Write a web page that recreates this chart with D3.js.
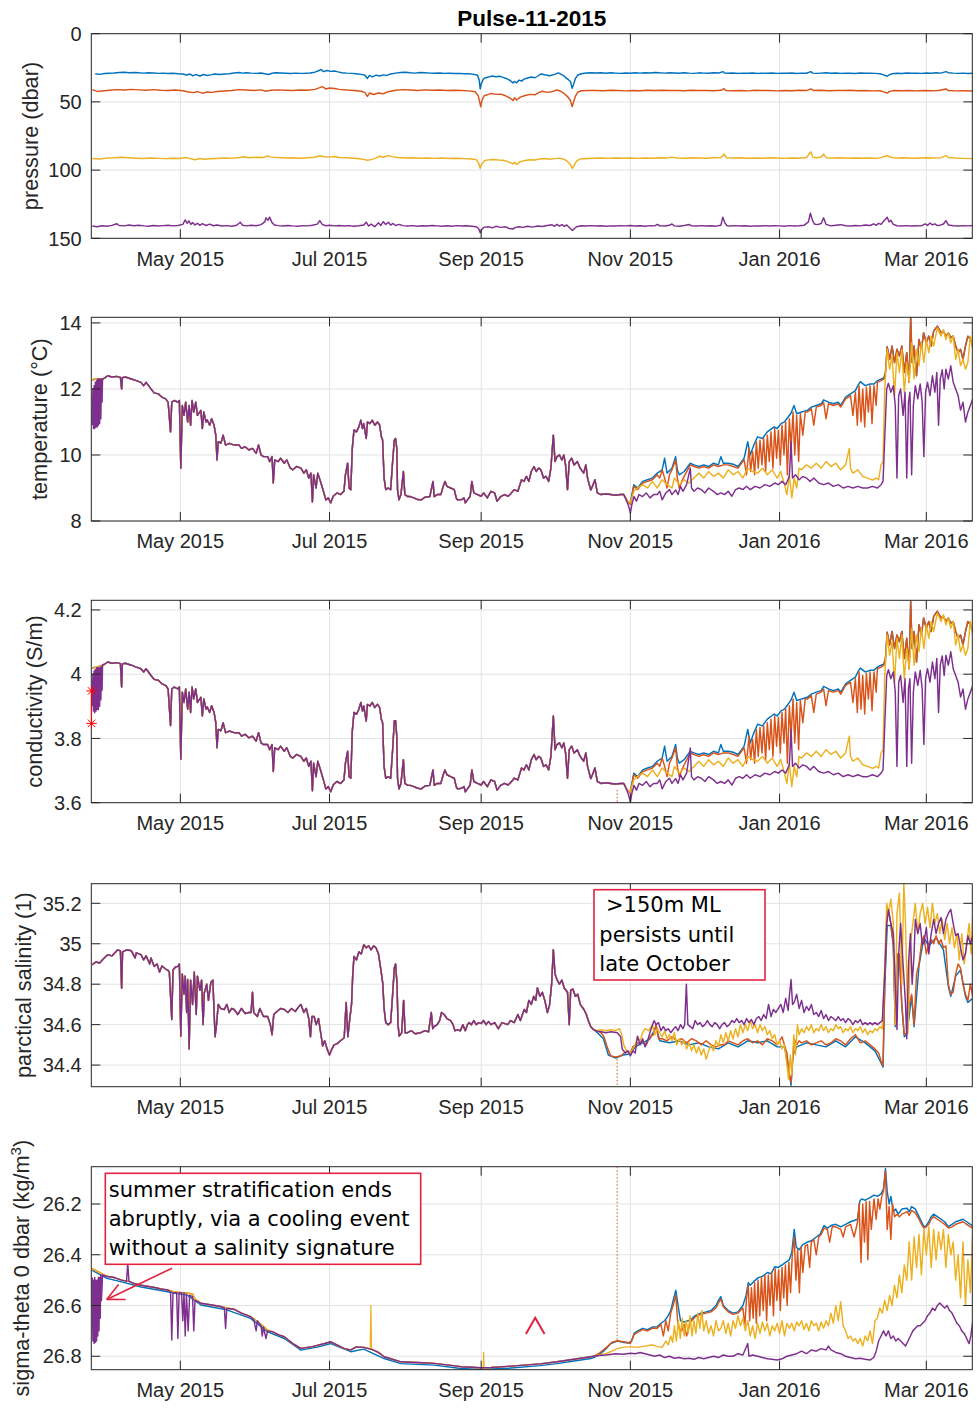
<!DOCTYPE html>
<html><head><meta charset="utf-8">
<script src="https://cdn.jsdelivr.net/npm/d3@7"></script>
<style>
html,body{margin:0;padding:0;background:#fff;}
svg{display:block;}
text{font-family:"Liberation Sans",Arial,Helvetica,sans-serif;}
</style></head><body>
<svg id="fig" width="977" height="1416"></svg>
<script>
// ---------------- DATA (day offsets from 2015-03-26 UTC, value) ----------------
const T0 = Date.UTC(2015, 2, 26);
const xDomainDays = [-0.4, 359.8];
const xTickDates = ["2015-05-01","2015-07-01","2015-09-01","2015-11-01","2016-01-01","2016-03-01"];
const xTickLabels = ["May 2015","Jul 2015","Sep 2015","Nov 2015","Jan 2016","Mar 2016"];
const title = "Pulse-11-2015";
const yLabels = ["pressure (dbar)","temperature (\u00B0C)","conductivity (S/m)","parctical salinity (1)","sigma-theta 0 dbar (kg/m"];
const yTicks = [[0,50,100,150],[8,10,12,14],[3.6,3.8,4,4.2],[34.4,34.6,34.8,35,35.2],[26.2,26.4,26.6,26.8]];
const yDomains = [[150,0],[8,14.17],[3.6,4.23],[34.293,35.297],[26.853,26.053]];

// pressure
const pressBlue = [[1.2,29.4],[3,29.8],[5,29.2],[7,29.0],[9,28.8],[11,28.5],[13,28.3],[15,28.6],[17,28.4],[19,28.7],[21,28.9],[23,28.6],[25,28.8],[27,29.1],[29,28.9],[31,29.2],[33,29.0],[35,29.3],[37,29.5],[38.5,30.3],[40,29.6],[41,30.8],[42.5,30.0],[44,31.0],[45.5,29.9],[47,30.6],[48.5,30.2],[50,29.6],[52,29.9],[54,29.5],[56,29.3],[58,28.8],[60,28.4],[61.5,28.9],[63,28.6],[65,28.9],[67,29.1],[69,28.8],[70.5,29.4],[72,29.9],[73.5,29.0],[75,28.6],[77,28.8],[79,29.0],[81,29.2],[83,28.9],[85,29.1],[87,29.0],[89,28.8],[91,28.2],[92.5,27.2],[93.5,26.2],[94.5,27.8],[96,27.0],[97.5,27.6],[99,27.3],[100.5,28.0],[102,28.6],[104,28.9],[106,29.1],[108,29.4],[110,29.8],[111.5,30.5],[112.5,32.8],[113.3,30.6],[114.5,31.6],[116,30.4],[117.5,31.0],[119,30.2],[120.5,30.6],[122,29.5],[124,28.9],[126,28.4],[128,28.2],[130,28.6],[132,28.9],[134,28.5],[136,28.7],[138,28.9],[140,29.0],[142,28.8],[144,29.1],[146,29.0],[148,29.2],[150,29.1],[152,29.3],[154,29.4],[156,29.8],[157.5,30.5],[158.2,34],[158.6,40.5],[159.1,36.5],[159.8,33.5],[160.5,32.5],[162,31.8],[163.5,31.0],[165,31.6],[166.5,31.2],[168,32.0],[169.5,33.0],[171,34.5],[172,36.2],[172.6,35.0],[173.5,36.0],[174.5,34.0],[175.5,34.8],[176.5,33.3],[178,32.5],[179.5,31.8],[181,32.3],[182,31.2],[183.5,29.5],[185,30.1],[187,30.8],[189,29.8],[190.5,28.7],[191.5,29.6],[192.5,30.5],[193.5,32.0],[194.5,33.5],[195.5,35.0],[196.2,40.0],[196.8,37.0],[197.5,33.0],[198.5,30.3],[200,29.4],[202,28.8],[204,28.6],[206,28.8],[208,28.6],[210,29.0],[212,28.7],[214,28.9],[216,29.1],[218,28.8],[220,29.0],[222,28.7],[224,28.9],[226,28.6],[228,28.8],[230,28.4],[232,28.7],[234,28.9],[236,28.6],[238,28.8],[240,29.0],[242,28.6],[244,28.9],[246,29.1],[248,28.7],[250,28.9],[252,29.0],[254,28.6],[256,28.8],[258,27.8],[258.5,28.9],[260,29.0],[262,28.8],[264,29.1],[266,28.9],[268,29.0],[270,28.8],[272,29.1],[274,28.9],[276,29.0],[278,28.8],[280,29.1],[282,28.9],[284,29.0],[286,28.8],[288,29.2],[290,28.9],[292,29.0],[293.8,27.8],[294.5,28.9],[296,29.1],[298,28.9],[300,28.7],[302,29.0],[304,28.8],[306,29.1],[308,28.9],[310,29.0],[312,29.2],[314,28.8],[316,29.0],[318,28.9],[320,29.1],[322,29.4],[323.5,30.2],[325,31.2],[326,30.0],[327,29.4],[329,29.0],[331,29.2],[333,28.8],[335,29.0],[337,28.9],[339,29.1],[341,28.8],[343,29.0],[345,28.7],[347,28.9],[349,27.8],[350,28.6],[352,28.9],[354,29.1],[356,28.9],[358,29.2],[360,29.0]];
const pressOrange = [[0,41.0],[2,42.3],[4,42.0],[7,41.5],[10,41.0],[13,41.3],[16,40.8],[19,41.2],[22,41.5],[25,41.0],[28,41.4],[31,41.6],[34,41.3],[37,41.8],[39,42.6],[41,43.2],[43,42.5],[45,43.6],[47,42.8],[49,43.0],[51,42.4],[54,42.0],[57,41.6],[60,41.0],[63,41.3],[66,41.6],[69,41.2],[71,42.2],[73,41.5],[76,41.2],[79,41.5],[82,41.7],[85,41.3],[88,41.5],[91,40.8],[93,39.5],[94,38.8],[95.5,40.5],[97,39.8],[99,40.2],[101,40.8],[104,41.3],[107,41.6],[110,42.2],[111.5,43.2],[112.5,46.0],[113.3,43.5],[115,44.6],[117,43.5],[119,44.0],[121,42.5],[124,41.5],[127,41.0],[130,41.3],[133,41.6],[136,41.2],[139,41.5],[142,41.3],[145,41.6],[148,41.4],[151,41.7],[154,41.9],[156.5,42.5],[157.8,45.5],[158.4,50],[158.8,53.6],[159.4,48.5],[160.2,45.5],[161.5,44.8],[163,43.8],[165,44.5],[167,44.3],[169,45.5],[171,47.5],[172,49.0],[172.6,47.0],[173.5,48.6],[175,46.5],[177,45.3],[179,44.5],[181,44.8],[182.5,43.2],[184,42.2],[186,43.0],[188,42.5],[190,41.3],[191.5,42.2],[193,44.0],[194.5,46.5],[195.5,49.0],[196.2,53.5],[196.8,50.0],[197.5,46.0],[198.5,42.8],[200,41.8],[203,41.7],[206,41.6],[209,41.8],[212,41.5],[215,41.7],[218,41.9],[221,41.6],[224,41.8],[227,41.5],[230,41.7],[233,41.4],[236,41.7],[239,41.6],[242,41.8],[245,41.5],[248,41.7],[251,41.6],[254,41.8],[257,41.5],[258.3,40.3],[259,41.6],[262,41.8],[265,41.6],[268,41.9],[271,41.5],[274,41.7],[277,41.6],[280,41.9],[283,41.6],[286,41.8],[289,41.5],[292,41.7],[293.8,40.5],[295,41.7],[298,41.5],[301,41.8],[304,41.6],[307,41.7],[310,41.5],[313,41.8],[316,41.6],[319,41.9],[322,41.8],[324,42.8],[325,43.5],[326,42.3],[328,41.7],[331,41.8],[334,41.6],[337,41.9],[340,41.7],[343,41.8],[346,41.6],[349,40.5],[350,41.7],[353,41.9],[356,41.8],[360,42.0]];
const pressYellow = [[0,91.5],[3,91.8],[6,91.2],[9,91.0],[12,90.6],[15,91.0],[18,91.3],[21,91.5],[24,91.2],[27,91.4],[30,91.6],[33,91.3],[36,91.5],[38,90.8],[40,91.6],[42,92.4],[44,91.5],[46,92.0],[48,91.7],[51,91.5],[54,91.2],[57,91.4],[60,90.8],[62,90.2],[64,91.0],[67,90.6],[70,90.8],[71.5,89.6],[73,90.5],[76,90.8],[79,91.2],[82,91.0],[85,91.3],[88,91.0],[91,90.6],[93,89.5],[95,90.2],[97,90.5],[99,90.0],[101,90.8],[104,91.0],[107,91.3],[110,91.8],[112.5,92.8],[114,92.3],[116,91.2],[117.5,89.8],[119,90.6],[121,89.4],[123,90.3],[125,90.8],[128,91.2],[131,91.0],[134,91.3],[137,91.1],[140,91.4],[143,91.2],[146,91.5],[149,91.3],[152,91.6],[155,91.8],[157,92.3],[158,95],[158.6,98.7],[159.2,95.5],[160.5,93.0],[162,92.5],[164,92.2],[166,92.6],[168,92.8],[170,93.8],[172,95.5],[172.6,94.2],[173.5,95.8],[175,93.8],[177,93.0],[179,92.4],[181,92.6],[183,91.8],[185,91.5],[187,92.0],[189,91.6],[191,91.2],[193,92.2],[194.5,94.0],[195.5,96.0],[196.3,98.7],[197,96.5],[198,93.5],[199.5,91.8],[202,91.5],[205,91.3],[208,91.2],[211,91.4],[214,91.1],[217,91.3],[220,91.2],[223,91.4],[226,91.1],[229,91.3],[232,91.0],[235,91.2],[237,90.5],[239,91.1],[242,91.3],[245,91.0],[248,91.2],[251,91.3],[254,91.0],[257,90.8],[258.3,88.3],[259.2,90.9],[262,91.2],[265,91.0],[268,91.3],[271,91.1],[274,91.3],[277,91.0],[280,91.2],[283,91.4],[286,91.1],[289,91.3],[292,90.8],[293.8,86.6],[294.6,90.5],[296,91.0],[298,90.4],[299,88.3],[300,90.9],[303,91.2],[306,91.0],[309,91.3],[312,91.1],[315,91.3],[318,91.1],[321,91.4],[323,90.5],[325,89.5],[326.5,90.6],[329,91.2],[332,91.0],[335,91.3],[338,91.1],[341,91.0],[344,91.2],[347,90.9],[349,89.4],[350,90.8],[353,91.2],[356,91.4],[360,91.6]];
const pressPurple = [[0,141.0],[2,141.5],[4,140.8],[6,141.2],[8,140.5],[10,139.3],[11,140.6],[13,140.9],[15,140.3],[17,140.8],[19,140.4],[21,140.9],[23,141.1],[25,140.6],[27,141.0],[29,140.7],[31,140.4],[33,140.9],[35,140.6],[37,139.8],[38,136.5],[38.8,139.0],[39.5,137.2],[40.3,139.8],[41,138.5],[42,140.2],[43,139.0],[44,140.5],[45,139.3],[46.5,140.6],[48,139.6],[49.5,140.8],[51,140.2],[53,141.0],[55,140.7],[57,141.2],[59,140.4],[60.5,138.2],[61.5,140.5],[63,140.9],[65,140.4],[67,140.8],[69,140.0],[70.5,138.0],[71,135.0],[71.8,136.8],[72.5,134.5],[73.5,138.5],[74.5,140.2],[76,140.7],[78,141.0],[80,140.6],[82,140.9],[84,141.1],[86,140.7],[88,140.9],[90,140.4],[92,139.6],[93,137.0],[94,139.8],[95.5,140.8],[97,140.5],[99,140.9],[101,140.6],[103,141.0],[105,140.7],[107,141.1],[109,140.8],[111,140.2],[112,138.2],[113,141.0],[114,139.6],[115.5,141.5],[117,138.6],[118,140.6],[119,137.8],[120,139.9],[121,138.2],[122,140.3],[123,139.1],[124,140.6],[125.5,139.8],[127,140.7],[129,141.0],[131,140.7],[133,141.1],[135,140.8],[137,141.0],[139,140.6],[141,140.9],[143,141.2],[145,140.8],[147,141.1],[149,140.7],[151,141.0],[153,140.8],[155,141.1],[157,141.5],[158,143.0],[158.6,146.0],[159.2,143.5],[160,142.0],[162,141.6],[163.5,142.3],[165,141.2],[167,142.0],[169,141.6],[170.5,142.8],[172,143.2],[173,142.0],[174.5,141.5],[176,142.0],[178,141.2],[180,141.8],[182,141.0],[184,141.4],[186,140.6],[188,140.1],[189,141.2],[190,139.8],[191,141.0],[192,140.0],[193,141.3],[194,140.2],[195,142.0],[196.3,144.3],[197,143.0],[198,141.5],[200,140.8],[202,141.0],[204,140.7],[206,141.0],[208,140.8],[210,141.1],[212,140.9],[214,141.0],[216,140.7],[218,140.9],[220,140.6],[222,141.0],[224,140.8],[226,141.1],[228,140.7],[230,140.9],[231,139.8],[232,140.8],[234,141.0],[236,140.5],[237,139.5],[238,140.9],[240,141.1],[242,140.6],[244,139.9],[245,140.8],[247,141.0],[249,140.7],[251,141.0],[253,140.8],[255,141.1],[257,140.4],[257.8,134.6],[258.6,138.5],[259.5,140.8],[261,141.0],[263,140.7],[265,141.0],[267,140.8],[269,141.1],[271,140.9],[273,141.0],[275,140.7],[277,141.0],[279,140.8],[281,140.9],[283,141.1],[285,140.7],[287,141.0],[289,140.8],[291,140.5],[292.8,138.0],[293.6,131.6],[294.4,136.5],[295.2,139.5],[296.5,140.0],[298,139.2],[299,135.0],[300,139.8],[302,140.9],[304,140.4],[306,140.0],[308,140.8],[310,141.0],[312,140.6],[314,140.9],[316,140.2],[318,140.6],[319.5,139.4],[320.5,140.5],[321.5,139.0],[322.5,139.8],[323.5,137.5],[324.3,136.0],[325,134.5],[325.8,138.0],[326.5,136.8],[327.5,139.8],[329,140.8],[331,141.0],[333,140.7],[335,141.0],[337,140.8],[339,140.9],[340.5,139.5],[341.5,140.6],[342.5,138.8],[343.5,140.2],[344.5,139.4],[345.5,140.7],[347,140.2],[348,139.5],[349,137.0],[350,140.2],[352,140.8],[354,141.0],[356,140.7],[358,140.9],[360,140.6]];

// temperature
const tempStartFlat = [[0,12.28],[2,12.3],[4.2,12.3]];
const tempPurpleStart = [[0,10.9],[0.25,12.0],[0.5,10.8],[0.75,12.1],[1,10.8],[1.25,12.2],[1.5,10.85],[1.75,12.25],[2,10.85],[2.25,12.3],[2.5,10.9],[2.75,12.3],[3,10.95],[3.25,12.3],[3.5,11.1],[3.75,12.3],[4,11.6],[4.2,12.3]];
const tempCommon = [[4.2,12.3],[5,12.33],[6.3,12.4],[8,12.36],[10,12.38],[11.5,12.35],[12,12.0],[12.3,12.34],[13.5,12.36],[16,12.3],[18,12.25],[19.9,12.2],[21,12.1],[22,12.2],[24,12.0],[25.3,11.88],[27,11.85],[28.5,11.75],[30,11.7],[31,11.6],[32,10.7],[32.5,11.6],[33.5,11.65],[35,11.6],[35.6,11.65],[36.2,9.6],[36.8,11.5],[37.5,11.2],[38.2,11.6],[39,11.0],[39.6,11.5],[40.2,10.9],[40.8,11.65],[41.5,11.3],[42.3,11.6],[43,11.2],[44.4,11.35],[45,10.8],[45.6,11.3],[46.5,11.0],[47,11.06],[48,10.9],[48.8,11.1],[49.8,10.9],[50.5,10.6],[51,9.85],[51.5,10.4],[52.6,10.36],[53.5,10.6],[54.5,10.3],[56,10.35],[58,10.3],[60,10.3],[61,10.2],[62.5,10.25],[64,10.15],[65.5,10.2],[67,10.05],[68,10.3],[69,10.0],[70,9.95],[71.7,9.95],[72.5,9.8],[73.5,9.95],[74,9.15],[74.6,9.85],[76,9.8],[77,9.9],[78.5,9.75],[79.5,9.85],[81,9.6],[82,9.55],[83.5,9.65],[85.3,9.6],[86.5,9.45],[87.5,9.55],[88.5,9.3],[89.4,9.45],[90,8.58],[90.5,9.4],[91.5,9.0],[92.2,9.45],[93.5,9.15],[94.5,8.9],[95.5,8.64],[96.5,8.7],[97.5,8.55],[98.5,8.75],[100,8.85],[101.5,8.8],[102.9,8.9],[103.5,9.4],[104.4,9.75],[105,9.0],[105.7,8.95],[106.3,10.2],[107,10.76],[108,10.7],[109,10.85],[109.8,11.05],[110.5,10.8],[111,10.95],[112,10.5],[112.5,11.0],[113.5,10.95],[114.5,11.05],[115.5,10.9],[116.6,11.0],[117.5,10.9],[118.2,10.55],[118.7,10.45],[119.3,9.3],[120,8.95],[121,9.0],[122,8.95],[122.8,9.8],[123.5,10.45],[124,10.5],[124.5,10.2],[124.8,8.95],[125.4,8.64],[126.2,8.8],[127.2,9.5],[127.8,8.8],[129,8.74],[130,8.74],[131.5,8.7],[133,8.65],[134.5,8.64],[136,8.72],[138,8.74],[139.3,9.2],[139.8,8.74],[141,8.8],[142.5,8.8],[143.5,9.05],[144.2,9.2],[145,9.05],[146.5,9.0],[148,8.95],[148.8,8.7],[149.3,8.64],[151,8.65],[152,8.7],[152.5,8.55],[153.4,8.64],[154.5,8.75],[155.2,9.2],[156,8.85],[157.5,8.8],[159,8.75],[160,8.85],[161.5,8.7],[163,8.9],[164.5,8.85],[165.5,8.6],[167,8.74],[168.5,8.8],[170,8.75],[171,8.82],[172.5,8.95],[174,8.9],[175.5,9.25],[176.5,9.2],[177.5,9.35],[178.5,9.2],[179.5,9.5],[180.6,9.65],[181.5,9.5],[182.5,9.6],[183.4,9.55],[184.5,9.3],[185.5,9.35],[186.6,9.2],[187.5,9.6],[188.5,10.6],[189.2,9.8],[190,9.95],[191,10.0],[192,9.85],[192.8,10.0],[193.5,9.7],[194.3,8.95],[195,9.8],[196,9.9],[197,9.7],[198.3,9.8],[199.5,9.6],[200.9,9.45],[201.8,9.7],[202.5,9.3],[203.8,8.94],[204.5,9.05],[205.5,9.25],[206.5,8.85],[208,8.8],[210,8.82],[212,8.8],[214,8.78],[216,8.8],[217.3,8.8]];
const tempBlueMid = [[218.8,8.6],[220,8.55],[221.4,9.1],[223,9.0],[225,9.2],[227,9.25],[229,9.3],[231,9.45],[233,9.55],[234,9.9],[235,9.45],[237,9.6],[238.5,9.95],[239.2,9.55],[240,9.4],[242,9.5],[244.5,9.75],[246,9.7],[248,9.65],[250,9.7],[252,9.65],[254,9.75],[256,9.7],[257,9.95],[258,9.75],[260,9.75],[262,9.72],[264,9.65],[265,9.75],[266.5,9.9],[268,10.4],[269,10.0],[270.5,10.3],[272,10.55],[274,10.5],[276,10.7],[278.8,10.85],[280,10.8],[281.6,10.95],[283,11.0],[284.5,11.15],[285.7,11.27],[286.9,11.5],[288,11.25],[290,11.3],[292.4,11.35],[294,11.45],[296,11.5],[298,11.55],[299,11.67],[301,11.6],[303,11.55],[305,11.6],[306,11.5],[308,11.75],[310,11.85],[312,11.95],[313,12.1],[314,12.22],[316,12.1],[318,12.15],[319.6,12.15],[321,12.25],[322.5,12.3],[323.6,12.33]];
const tempOrangeMid = [[218.8,8.6],[220,8.5],[221.4,9.05],[223,8.95],[225,9.15],[227,9.2],[229,9.25],[231,9.4],[232,9.3],[233,9.55],[234,9.3],[235,9.0],[236,9.4],[237,9.55],[238.5,9.85],[239.2,9.3],[240,9.0],[241,9.2],[242,9.35],[244.5,9.7],[246,9.65],[248,9.6],[250,9.65],[252,9.6],[254,9.7],[256,9.65],[258,9.7],[260,9.7],[262,9.65],[264,9.6],[265,9.7],[266.5,9.85],[267.5,9.4],[268.5,10.2],[269.2,9.5],[270,10.1],[270.8,9.4],[271.5,10.4],[272.3,9.6],[273,10.45],[273.8,9.7],[274.5,10.5],[275.3,9.5],[276,10.6],[276.8,9.8],[277.5,10.7],[278.3,9.6],[279,10.8],[279.8,9.9],[280.5,10.75],[281.3,9.7],[282,10.9],[282.8,10.0],[283.5,11.0],[284.2,9.4],[285,11.1],[285.7,10.2],[286.5,11.3],[287.2,10.0],[288,11.2],[288.8,9.8],[289.5,11.25],[290.5,10.6],[291.5,11.3],[292.4,11.3],[294,11.4],[295,10.9],[296,11.45],[298,11.5],[299,11.6],[300,11.1],[301,11.55],[303,11.5],[305,11.55],[306,11.45],[308,11.7],[310,11.8],[311,11.2],[312,11.9],[312.8,10.9],[313.5,12.1],[314.3,11.0],[315,12.0],[315.8,10.85],[316.5,12.05],[317.3,11.3],[318,12.1],[318.8,10.95],[319.6,12.1],[320.5,11.5],[321,12.2],[322.5,12.25],[323.6,12.3]];
const tempHigh = [[324.3,12.5],[325,13.28],[326,12.9],[327,13.3],[328,12.8],[329,13.2],[330,13.0],[331,13.3],[332,12.5],[333,13.1],[334,12.2],[334.6,14.2],[335.2,12.8],[336,13.3],[337,12.4],[338,13.5],[339,13.2],[339.9,13.7],[341,13.4],[342,13.6],[343,13.3],[344,13.75],[345.5,13.9],[347,13.7],[348,13.75],[349,13.6],[350,13.7],[351,13.55],[352,13.6],[353,13.3],[354,13.1],[355,13.2],[356,12.9],[357,13.3],[358,13.6],[359,13.5],[360,13.3]];
const tempYellowLate = [[218.8,8.6],[220,8.55],[221.4,8.9],[223,9.0],[225,9.1],[227,9.0],[229,9.2],[231,9.0],[233,9.25],[235,9.1],[237,9.0],[238,9.3],[240,9.1],[242,9.25],[244,9.15],[246,9.3],[248,9.45],[250,9.3],[252,9.5],[254,9.35],[256,9.45],[258,9.3],[260,9.55],[262,9.4],[264,9.5],[266,9.3],[268,9.6],[270,9.5],[272,9.45],[274,9.6],[276,9.4],[278,9.55],[280,9.3],[281.5,9.5],[283,9.1],[284,8.8],[285,9.4],[286,8.7],[287,9.3],[288,9.0],[289,9.6],[290,9.55],[292,9.7],[294,9.6],[296,9.75],[298,9.6],[300,9.8],[302,9.65],[304,9.75],[306,9.55],[308,9.7],[309.5,10.2],[310,9.6],[311,9.45],[313,9.55],[315,9.35],[317,9.3],[319,9.24],[320.5,9.3],[321.5,9.25],[322.5,9.7],[323.3,9.8],[324,12.0],[325,13.2],[326,12.6],[327,13.0],[328,11.8],[329,13.1],[330,12.5],[331,13.2],[332,11.9],[333,12.8],[334,12.2],[335,13.4],[336,12.3],[337,13.2],[338,12.7],[339,13.4],[340,12.8],[341,13.5],[342,13.1],[343,13.6],[344,13.3],[345.5,13.85],[347,13.6],[348,13.8],[349,13.5],[350,13.7],[351,13.4],[352,13.6],[353,12.9],[354,13.2],[355,12.7],[356,12.9],[357,12.6],[358,12.8],[359,13.6],[360,13.2]];
const tempPurpleLate = [[218.8,8.55],[219.5,8.4],[220,8.24],[220.6,8.5],[221.5,8.74],[222.5,8.6],[223.5,8.8],[225,8.74],[226.5,8.85],[228,8.7],[229.5,8.8],[231,8.8],[232,8.9],[233,8.64],[234.5,8.85],[236,8.95],[237,8.8],[238.5,8.94],[239.5,8.8],[240.5,9.05],[241.5,8.9],[243,9.1],[244.5,9.6],[245,9.0],[246,8.9],[247.5,9.0],[249,8.95],[250.5,8.85],[252,9.0],[254,8.9],[255.5,8.8],[257,8.85],[258.5,8.8],[260,8.9],[261.5,8.75],[263,8.95],[264.5,9.0],[266,8.95],[267.5,9.05],[269,8.95],[271,9.05],[273,9.0],[275,9.1],[277,9.05],[279,9.15],[280.5,9.1],[282,9.2],[283.5,9.1],[285,9.35],[285.7,10.4],[286.3,9.3],[287.5,9.4],[289,9.25],[290.5,9.35],[292,9.3],[293.5,9.2],[295,9.3],[297,9.15],[299,9.1],[301,9.15],[303,9.05],[305,9.1],[307,9.0],[309,9.05],[311,9.0],[313,9.05],[315,9.0],[317,9.0],[319,9.05],[321,9.0],[322.5,9.1],[323.3,9.2],[324,10.5],[324.8,12.0],[325.5,12.17],[326.5,11.9],[327.5,12.1],[328.3,11.5],[329,9.3],[329.7,11.8],[330.5,12.0],[331.5,11.2],[332.3,11.9],[333,9.3],[333.7,11.6],[334.3,11.9],[335,9.4],[335.7,11.5],[336.5,12.1],[337.5,11.7],[338.5,12.15],[339.3,11.6],[340,9.95],[340.7,11.9],[341.5,12.2],[342.5,11.8],[343.5,12.4],[344.5,11.9],[345.3,12.5],[346,10.9],[346.7,12.3],[347.5,12.58],[348.3,12.0],[349,12.6],[350,12.3],[351,12.7],[352,12.2],[353,12.0],[354,11.8],[355,11.36],[356,11.6],[357,11.0],[358,11.3],[359,11.5],[360,11.7]];

// conductivity
const condStartFlat = [[0,4.02],[2,4.022],[4.2,4.028]];
const condPurpleStart = [[0,3.9],[0.25,4.0],[0.5,3.885],[0.75,4.01],[1,3.88],[1.25,4.015],[1.5,3.885],[1.75,4.02],[2,3.89],[2.25,4.02],[2.5,3.89],[2.75,4.02],[3,3.9],[3.25,4.02],[3.5,3.92],[3.75,4.025],[4,3.95],[4.2,4.028]];
const condCommon = [[4.2,4.028],[5,4.031],[6.3,4.038],[8,4.034],[10,4.036],[11.5,4.033],[12,3.96],[12.3,4.032],[13.5,4.034],[16,4.028],[18,4.022],[19.9,4.017],[21,4.007],[22,4.017],[24,3.996],[25.3,3.984],[27,3.981],[28.5,3.97],[30,3.965],[31,3.954],[32,3.84],[32.5,3.954],[33.5,3.96],[35,3.954],[35.6,3.96],[36.2,3.735],[36.8,3.944],[37.5,3.912],[38.2,3.954],[39,3.891],[39.6,3.944],[40.2,3.881],[40.8,3.96],[41.5,3.923],[42.3,3.954],[43,3.912],[44.4,3.928],[45,3.87],[45.6,3.923],[46.5,3.891],[47,3.898],[48,3.881],[48.8,3.902],[49.8,3.881],[50.5,3.849],[51,3.771],[51.5,3.828],[52.6,3.824],[53.5,3.849],[54.5,3.818],[56,3.823],[58,3.818],[60,3.818],[61,3.807],[62.5,3.813],[64,3.802],[65.5,3.807],[67,3.792],[68,3.818],[69,3.786],[70,3.781],[71.7,3.781],[72.5,3.765],[73.5,3.781],[74,3.697],[74.6,3.771],[76,3.765],[77,3.776],[78.5,3.76],[79.5,3.771],[81,3.744],[82,3.739],[83.5,3.75],[85.3,3.744],[86.5,3.729],[87.5,3.739],[88.5,3.713],[89.4,3.729],[90,3.637],[90.5,3.723],[91.5,3.681],[92.2,3.729],[93.5,3.697],[94.5,3.671],[95.5,3.643],[96.5,3.65],[97.5,3.634],[98.5,3.655],[100,3.666],[101.5,3.66],[102.9,3.671],[103.5,3.723],[104.4,3.76],[105,3.681],[105.7,3.676],[106.3,3.822],[107,3.881],[108,3.875],[109,3.891],[109.8,3.912],[110.5,3.885],[111,3.901],[112,3.854],[112.5,3.906],[113.5,3.901],[114.5,3.912],[115.5,3.896],[116.6,3.906],[117.5,3.896],[118.2,3.859],[118.7,3.849],[119.3,3.713],[120,3.676],[121,3.681],[122,3.676],[122.8,3.765],[123.5,3.855],[124,3.855],[124.5,3.807],[124.8,3.676],[125.4,3.643],[126.2,3.66],[127.2,3.734],[127.8,3.66],[129,3.654],[130,3.654],[131.5,3.65],[133,3.645],[134.5,3.643],[136,3.652],[138,3.654],[139.3,3.702],[139.8,3.654],[141,3.66],[142.5,3.66],[143.5,3.687],[144.2,3.702],[145,3.687],[146.5,3.681],[148,3.676],[148.8,3.65],[149.3,3.643],[151,3.645],[152,3.65],[152.5,3.634],[153.4,3.643],[154.5,3.655],[155.2,3.702],[156,3.666],[157.5,3.66],[159,3.655],[160,3.666],[161.5,3.65],[163,3.671],[164.5,3.666],[165.5,3.639],[167,3.654],[168.5,3.66],[170,3.655],[171,3.662],[172.5,3.676],[174,3.671],[175.5,3.708],[176.5,3.702],[177.5,3.718],[178.5,3.702],[179.5,3.734],[180.6,3.75],[181.5,3.734],[182.5,3.744],[183.4,3.739],[184.5,3.713],[185.5,3.718],[186.6,3.702],[187.5,3.744],[188.5,3.87],[189.2,3.765],[190,3.781],[191,3.786],[192,3.771],[192.8,3.786],[193.5,3.755],[194.3,3.676],[195,3.765],[196,3.776],[197,3.755],[198.3,3.765],[199.5,3.744],[200.9,3.729],[201.8,3.755],[202.5,3.713],[203.8,3.675],[204.5,3.687],[205.5,3.708],[206.5,3.666],[208,3.66],[210,3.662],[212,3.66],[214,3.658],[216,3.66],[217.3,3.66]];
const condBlueMid = [[218.8,3.639],[220,3.634],[221.4,3.692],[223,3.681],[225,3.702],[227,3.708],[229,3.713],[231,3.729],[233,3.739],[234,3.776],[235,3.729],[237,3.744],[238.5,3.781],[239.2,3.739],[240,3.723],[242,3.734],[244.5,3.76],[246,3.755],[248,3.75],[250,3.755],[252,3.75],[254,3.76],[256,3.755],[257,3.781],[258,3.76],[260,3.76],[262,3.757],[264,3.75],[265,3.76],[266.5,3.776],[268,3.828],[269,3.786],[270.5,3.818],[272,3.844],[274,3.839],[276,3.86],[278.8,3.876],[280,3.87],[281.6,3.886],[283,3.891],[284.5,3.907],[285.7,3.92],[286.9,3.944],[288,3.918],[290,3.923],[292.4,3.928],[294,3.938],[296,3.944],[298,3.949],[299,3.962],[301,3.954],[303,3.949],[305,3.954],[306,3.944],[308,3.97],[310,3.981],[312,3.991],[313,4.007],[314,4.019],[316,4.007],[318,4.012],[319.6,4.012],[321,4.022],[322.5,4.028],[323.6,4.031]];
const condOrangeMid = [[218.8,3.639],[220,3.629],[221.4,3.687],[223,3.676],[225,3.697],[227,3.702],[229,3.708],[231,3.723],[232,3.713],[233,3.739],[234,3.713],[235,3.681],[236,3.723],[237,3.739],[238.5,3.771],[239.2,3.713],[240,3.681],[241,3.702],[242,3.718],[244.5,3.755],[246,3.75],[248,3.744],[250,3.75],[252,3.744],[254,3.755],[256,3.75],[258,3.755],[260,3.755],[262,3.75],[264,3.744],[265,3.755],[266.5,3.771],[267.5,3.723],[268.5,3.807],[269.2,3.734],[270,3.797],[270.8,3.723],[271.5,3.828],[272.3,3.744],[273,3.834],[273.8,3.755],[274.5,3.839],[275.3,3.734],[276,3.849],[276.8,3.765],[277.5,3.86],[278.3,3.744],[279,3.87],[279.8,3.776],[280.5,3.865],[281.3,3.755],[282,3.881],[282.8,3.786],[283.5,3.891],[284.2,3.723],[285,3.902],[285.7,3.807],[286.5,3.923],[287.2,3.786],[288,3.912],[288.8,3.765],[289.5,3.918],[290.5,3.849],[291.5,3.923],[292.4,3.923],[294,3.933],[295,3.881],[296,3.938],[298,3.944],[299,3.954],[300,3.902],[301,3.949],[303,3.944],[305,3.949],[306,3.938],[308,3.965],[310,3.975],[311,3.912],[312,3.986],[312.8,3.881],[313.5,4.007],[314.3,3.891],[315,3.996],[315.8,3.876],[316.5,4.002],[317.3,3.923],[318,4.007],[318.8,3.886],[319.6,4.007],[320.5,3.944],[321,4.017],[322.5,4.022],[323.6,4.028]];
const condHigh = [[324.3,4.049],[325,4.131],[326,4.091],[327,4.133],[328,4.08],[329,4.122],[330,4.101],[331,4.133],[332,4.049],[333,4.112],[334,4.017],[334.6,4.227],[335.2,4.08],[336,4.133],[337,4.038],[338,4.154],[339,4.122],[339.9,4.175],[341,4.143],[342,4.164],[343,4.133],[344,4.18],[345.5,4.196],[347,4.175],[348,4.18],[349,4.164],[350,4.175],[351,4.159],[352,4.164],[353,4.133],[354,4.112],[355,4.122],[356,4.091],[357,4.133],[358,4.164],[359,4.154],[360,4.133]];
const condYellowLate = [[218.8,3.639],[220,3.634],[221.4,3.671],[223,3.681],[225,3.692],[227,3.681],[229,3.702],[231,3.681],[233,3.708],[235,3.692],[237,3.681],[238,3.713],[240,3.692],[242,3.708],[244,3.697],[246,3.713],[248,3.729],[250,3.713],[252,3.734],[254,3.718],[256,3.729],[258,3.713],[260,3.739],[262,3.723],[264,3.734],[266,3.713],[268,3.744],[270,3.734],[272,3.729],[274,3.744],[276,3.723],[278,3.739],[280,3.713],[281.5,3.734],[283,3.692],[284,3.66],[285,3.723],[286,3.65],[287,3.713],[288,3.681],[289,3.744],[290,3.739],[292,3.755],[294,3.744],[296,3.76],[298,3.744],[300,3.765],[302,3.75],[304,3.76],[306,3.739],[308,3.755],[309.5,3.807],[310,3.744],[311,3.729],[313,3.739],[315,3.718],[317,3.713],[319,3.707],[320.5,3.713],[321.5,3.708],[322.5,3.755],[323.3,3.765],[324,3.996],[325,4.122],[326,4.059],[327,4.101],[328,3.975],[329,4.112],[330,4.049],[331,4.122],[332,3.986],[333,4.08],[334,4.017],[335,4.143],[336,4.028],[337,4.122],[338,4.07],[339,4.143],[340,4.08],[341,4.154],[342,4.112],[343,4.164],[344,4.133],[345.5,4.19],[347,4.164],[348,4.185],[349,4.154],[350,4.175],[351,4.143],[352,4.164],[353,4.091],[354,4.122],[355,4.07],[356,4.091],[357,4.059],[358,4.08],[359,4.164],[360,4.122]];
const condPurpleLate = [[218.8,3.634],[219.5,3.618],[220,3.601],[220.6,3.629],[221.5,3.654],[222.5,3.639],[223.5,3.66],[225,3.654],[226.5,3.666],[228,3.65],[229.5,3.66],[231,3.66],[232,3.671],[233,3.643],[234.5,3.666],[236,3.676],[237,3.66],[238.5,3.675],[239.5,3.66],[240.5,3.687],[241.5,3.671],[243,3.692],[244.5,3.77],[245,3.681],[246,3.671],[247.5,3.681],[249,3.676],[250.5,3.666],[252,3.681],[254,3.671],[255.5,3.66],[257,3.666],[258.5,3.66],[260,3.671],[261.5,3.655],[263,3.676],[264.5,3.681],[266,3.676],[267.5,3.687],[269,3.676],[271,3.687],[273,3.681],[275,3.692],[277,3.687],[279,3.697],[280.5,3.692],[282,3.702],[283.5,3.692],[285,3.718],[285.7,3.828],[286.3,3.713],[287.5,3.723],[289,3.708],[290.5,3.718],[292,3.713],[293.5,3.702],[295,3.713],[297,3.697],[299,3.692],[301,3.697],[303,3.687],[305,3.692],[307,3.681],[309,3.687],[311,3.681],[313,3.687],[315,3.681],[317,3.681],[319,3.687],[321,3.681],[322.5,3.692],[323.3,3.702],[324,3.839],[324.8,3.996],[325.5,4.014],[326.5,3.986],[327.5,4.007],[328.3,3.944],[329,3.713],[329.7,3.975],[330.5,3.996],[331.5,3.912],[332.3,3.986],[333,3.713],[333.7,3.954],[334.3,3.986],[335,3.723],[335.7,3.944],[336.5,4.007],[337.5,3.965],[338.5,4.012],[339.3,3.954],[340,3.781],[340.7,3.986],[341.5,4.017],[342.5,3.975],[343.5,4.038],[344.5,3.986],[345.3,4.049],[346,3.881],[346.7,4.028],[347.5,4.057],[348.3,3.996],[349,4.059],[350,4.028],[351,4.07],[352,4.017],[353,3.996],[354,3.975],[355,3.929],[356,3.954],[357,3.891],[358,3.923],[359,3.944],[360,3.965]];
const condRedMarks = [[-0.3,3.948],[-0.3,3.847]];

// salinity
const salCommon = [[0,34.896],[1.5,34.91],[3,34.905],[4.5,34.925],[6.3,34.946],[8,34.94],[10.4,34.97],[11.5,34.965],[12,34.78],[12.4,34.96],[14,34.97],[16,34.965],[17.5,34.93],[18,34.955],[19.9,34.946],[21,34.92],[22,34.94],[23.5,34.9],[24,34.93],[25.3,34.888],[26.5,34.9],[27.5,34.86],[28.5,34.89],[30,34.875],[30.8,34.87],[31.5,34.86],[32.5,34.625],[33,34.87],[34,34.885],[35,34.888],[35.6,34.9],[36.2,34.543],[36.8,34.85],[37.5,34.75],[38,34.84],[38.6,34.66],[39,34.823],[39.6,34.48],[40.2,34.82],[41,34.7],[41.7,34.86],[42.5,34.65],[43,34.84],[44,34.77],[44.7,34.82],[45.3,34.6],[45.8,34.757],[46.8,34.8],[47.5,34.72],[48.5,34.81],[49.3,34.82],[50.2,34.54],[50.8,34.6],[51.5,34.7],[52.5,34.68],[54,34.675],[55,34.7],[56,34.66],[57,34.68],[58,34.675],[59.5,34.65],[61,34.68],[62.5,34.655],[64,34.66],[64.9,34.66],[65.5,34.76],[66,34.66],[67.5,34.64],[68.5,34.68],[70,34.64],[71.7,34.64],[72.8,34.6],[73.5,34.55],[74.2,34.65],[75.5,34.665],[77,34.68],[78.5,34.675],[80,34.66],[81.5,34.68],[83,34.665],[84.5,34.69],[85.3,34.7],[86.5,34.66],[87.5,34.68],[88.5,34.63],[89.2,34.54],[89.8,34.64],[90.7,34.64],[91.5,34.6],[92.5,34.63],[93.5,34.55],[94.2,34.494],[95,34.52],[96,34.48],[97,34.45],[97.6,34.47],[98.8,34.5],[100,34.505],[101.5,34.52],[103,34.535],[103.8,34.71],[104.5,34.54],[105.2,34.62],[106,34.7],[106.5,34.85],[107,34.937],[108,34.92],[109,34.96],[110,34.95],[111,34.995],[112,34.98],[113,34.99],[114,34.97],[115,34.99],[116,34.98],[117,34.95],[118,34.872],[118.8,34.8],[119.3,34.68],[120,34.61],[121,34.6],[122,34.61],[122.8,34.75],[123.5,34.88],[124,34.9],[124.6,34.8],[125,34.6],[125.5,34.543],[126.5,34.56],[127.3,34.72],[127.9,34.56],[128.9,34.56],[130.5,34.57],[132,34.555],[134.3,34.56],[136,34.57],[137.5,34.565],[138.6,34.66],[139.2,34.58],[139.8,34.59],[141,34.6],[142,34.62],[142.8,34.66],[143.9,34.65],[145,34.63],[146.5,34.62],[147.5,34.6],[148.3,34.57],[149.3,34.575],[150.5,34.57],[151.5,34.6],[152.5,34.57],[153.4,34.6],[154,34.61],[155,34.6],[156,34.62],[157,34.6],[158,34.61],[159,34.606],[160,34.62],[161,34.6],[162,34.615],[163,34.6],[164.5,34.61],[166,34.58],[167.5,34.61],[169.8,34.6],[171,34.62],[172.5,34.61],[174,34.65],[175,34.62],[176.6,34.675],[177.5,34.66],[178.5,34.72],[179.5,34.7],[180.5,34.74],[181.3,34.72],[182,34.782],[183,34.74],[184,34.76],[185,34.72],[186.1,34.66],[187,34.7],[187.8,34.8],[188.5,34.97],[189.2,34.85],[190,34.823],[191,34.8],[192,34.82],[193,34.78],[194.3,34.76],[195,34.6],[195.6,34.77],[196.5,34.776],[197.5,34.74],[198.5,34.75],[199.5,34.7],[201,34.675],[202,34.65],[202.8,34.62],[203.8,34.59],[205,34.575]];
const salBlueLate = [[206.5,34.56],[209,34.53],[211,34.45],[214,34.435],[217,34.45],[220,34.455],[222,34.49],[225,34.51],[228,34.53],[230.5,34.59],[232,34.52],[236,34.51],[240,34.52],[244,34.5],[248,34.51],[252,34.49],[256,34.48],[260,34.51],[264,34.49],[268,34.52],[272,34.51],[276,34.52],[280,34.49],[283,34.49],[284.5,34.4],[285.7,34.3],[286.5,34.45],[288,34.49],[292,34.51],[296,34.5],[300,34.49],[304,34.52],[308,34.49],[312,34.54],[316,34.51],[320,34.47],[322.5,34.41],[323.3,34.39],[324,34.78],[325,35.09],[326.5,35.09],[327.5,34.99],[328.3,34.59],[329,34.94],[330,34.94],[331,34.69],[332,34.54],[333,34.55],[335,34.74],[336,34.59],[338,34.89],[340,35.03],[342,34.99],[345,35.03],[348,34.97],[350,34.79],[351,34.74],[353,34.84],[355,34.87],[357,34.74],[358,34.71],[360,34.73]];
const salOrangeLate = [[206.5,34.568],[208,34.56],[209.2,34.54],[210.5,34.49],[212,34.445],[214,34.44],[216,34.445],[217.5,34.46],[219,34.47],[220,34.46],[221,34.49],[222,34.5],[223.5,34.51],[225,34.52],[226.5,34.5],[228,34.54],[229.5,34.55],[230.5,34.6],[231.5,34.53],[233,34.53],[235,34.52],[237,34.54],[239,34.52],[241,34.53],[243,34.51],[245,34.53],[247,34.52],[249,34.5],[251,34.52],[253,34.5],[255,34.49],[257,34.5],[258.5,34.5],[260,34.52],[262,34.51],[264,34.5],[266,34.52],[268,34.53],[270,34.51],[272,34.52],[274,34.5],[276,34.53],[278,34.52],[280,34.5],[282,34.54],[283,34.5],[284,34.46],[285,34.35],[285.7,34.313],[286.3,34.42],[287,34.53],[288,34.5],[289,34.52],[290,34.51],[292,34.52],[294,34.5],[296,34.51],[298,34.52],[300,34.5],[302,34.51],[304,34.53],[306,34.52],[308,34.5],[310,34.53],[312,34.55],[314,34.51],[316,34.52],[318,34.5],[320,34.48],[321.5,34.46],[322.5,34.42],[323.3,34.396],[324,34.8],[324.8,35.1],[325.5,35.17],[326.5,35.1],[327.5,35.0],[328.3,34.6],[329,34.95],[330,34.95],[331,34.7],[332,34.55],[333,34.56],[334,34.7],[335,34.75],[336,34.6],[337,34.85],[338,34.9],[339,35.0],[340,35.04],[341,34.95],[342,35.0],[343,35.02],[344,35.0],[345,35.04],[346,35.0],[347,35.02],[348,34.98],[349,34.99],[350,34.8],[351,34.75],[352,34.76],[353,34.85],[354,34.9],[355,34.88],[356,34.8],[357,34.75],[358,34.72],[359,34.8],[360,34.74]];
const salYellowLate = [[206.5,34.57],[208,34.575],[210,34.57],[212,34.575],[214,34.57],[215.5,34.58],[216.5,34.55],[217.3,34.5],[218.5,34.47],[220,34.46],[221,34.48],[222,34.5],[223,34.54],[224,34.52],[225,34.56],[226,34.58],[227.5,34.57],[229,34.6],[230,34.55],[231,34.58],[232,34.56],[233,34.54],[234,34.57],[235,34.53],[236,34.55],[237,34.52],[238,34.56],[239,34.5],[240,34.53],[241,34.5],[242,34.52],[243,34.48],[244,34.51],[245,34.47],[246,34.5],[247,34.46],[248,34.49],[249,34.45],[250,34.48],[251,34.43],[252,34.47],[253,34.5],[254,34.47],[255,34.52],[256,34.49],[257,34.55],[258,34.51],[259,34.56],[260,34.52],[261,34.57],[262,34.53],[263,34.58],[264,34.54],[265,34.6],[266,34.56],[267,34.6],[268,34.57],[269,34.62],[270,34.58],[271,34.6],[272,34.56],[273,34.6],[274,34.57],[275,34.59],[276,34.55],[277,34.57],[278,34.53],[279,34.55],[280,34.5],[281,34.52],[282,34.48],[283,34.5],[284,34.4],[284.7,34.33],[285.4,34.45],[286,34.35],[286.8,34.55],[287.5,34.45],[288.3,34.6],[289,34.55],[290,34.58],[291,34.56],[292,34.59],[293,34.57],[294,34.6],[295,34.56],[296,34.58],[297,34.57],[298,34.6],[299,34.57],[300,34.59],[301,34.56],[302,34.58],[303,34.57],[304,34.6],[305,34.58],[306,34.59],[307,34.56],[308,34.58],[309,34.57],[310,34.59],[311,34.56],[312,34.58],[313,34.57],[314,34.59],[315,34.56],[316,34.58],[317,34.55],[318,34.57],[319,34.56],[320,34.58],[321,34.57],[322,34.59],[323,34.58],[324,34.9],[324.8,35.2],[325.5,35.15],[326.5,35.22],[327.5,35.1],[328.3,34.6],[329,35.15],[330,35.25],[331,34.8],[331.8,35.3],[332.5,35.1],[333.5,34.56],[334.5,35.0],[335.5,35.1],[336.5,35.2],[337.5,35.05],[338.5,35.15],[339.5,35.2],[340.5,35.1],[341.5,35.18],[342.5,35.08],[343.5,35.2],[344.5,35.1],[345.5,35.15],[346.5,35.05],[347.5,35.12],[348.5,35.02],[349.5,35.1],[350.5,35.0],[351.5,35.08],[352.5,34.98],[353.5,35.05],[354.5,34.92],[355.5,35.05],[356.5,34.9],[357.5,35.0],[358.5,35.1],[359.3,34.95],[360,35.15]];
const salPurpleLate = [[206.5,34.568],[208,34.565],[210,34.56],[212,34.565],[214.7,34.56],[216,34.54],[216.7,34.478],[218,34.46],[219,34.47],[220,34.445],[221,34.47],[222,34.46],[222.9,34.543],[224,34.5],[225,34.53],[226,34.49],[227,34.52],[228.5,34.58],[229.7,34.62],[230.5,34.6],[231.5,34.61],[232.5,34.57],[233.5,34.59],[234.5,34.57],[235.5,34.58],[236.5,34.56],[237.5,34.576],[238.5,34.59],[239.5,34.57],[240.5,34.6],[241.5,34.58],[242.2,34.6],[242.9,34.8],[243.5,34.6],[244.5,34.59],[245.5,34.58],[246.5,34.62],[247.5,34.6],[248.5,34.61],[249.5,34.59],[250.5,34.6],[251.5,34.62],[252.5,34.6],[253.5,34.59],[254.5,34.61],[255.5,34.6],[256.5,34.58],[257.5,34.6],[258.5,34.61],[259.5,34.59],[260.5,34.6],[261.5,34.62],[262.5,34.61],[263.5,34.63],[264.5,34.61],[265.5,34.62],[266.5,34.6],[267.5,34.63],[268.5,34.61],[269.5,34.625],[270.5,34.6],[271.5,34.63],[272.5,34.64],[273.5,34.62],[274.5,34.65],[275.5,34.63],[276.5,34.7],[277.5,34.64],[278.5,34.675],[279.5,34.66],[280.5,34.68],[281.5,34.7],[282.5,34.66],[283.5,34.73],[284.5,34.67],[285,34.74],[285.7,34.823],[286.3,34.7],[287,34.71],[288,34.75],[289,34.68],[290,34.72],[291,34.66],[292,34.69],[293,34.67],[294,34.7],[295,34.65],[296,34.66],[297,34.64],[298,34.67],[299,34.63],[300,34.65],[301,34.62],[302,34.64],[303,34.63],[304,34.62],[305,34.64],[306,34.62],[307,34.63],[308,34.61],[309,34.63],[310,34.62],[311,34.6],[312,34.62],[313,34.61],[314,34.625],[315,34.6],[316,34.61],[317,34.6],[318,34.61],[319,34.6],[320,34.61],[321,34.6],[322,34.61],[323,34.62],[324,34.85],[324.8,35.1],[325.5,35.168],[326.5,35.1],[327.5,35.05],[328.3,34.8],[329,34.576],[329.7,34.95],[330.5,35.1],[331.5,34.9],[332.5,34.7],[333,34.53],[333.7,34.9],[334.5,35.05],[335.2,34.8],[336,34.95],[336.5,35.12],[337.5,35.05],[338.5,35.1],[339.3,35.0],[340,35.0],[341,35.08],[342,34.95],[343,35.05],[344,35.12],[345,35.05],[346,35.1],[347,35.13],[348,35.05],[349,35.12],[350,35.15],[351,35.17],[352,35.1],[353,35.04],[354,35.05],[355,34.98],[356,34.92],[357,34.95],[358,35.04],[359,35.0],[360,35.04]];

// sigma-theta
const sigmaCommon = [[0,26.455],[2,26.465],[4,26.475],[6.3,26.486],[9,26.49],[12,26.5],[15,26.505],[17,26.513],[20,26.52],[23,26.525],[26,26.53],[28,26.535],[30.8,26.539],[33,26.545],[36,26.55],[39,26.552],[41,26.555],[42,26.575],[44.4,26.591],[47,26.595],[50,26.6],[52,26.603],[55,26.61],[58,26.615],[61,26.63],[64.7,26.644],[67,26.66],[69,26.675],[71.7,26.697],[74,26.705],[76,26.715],[78.5,26.723],[80,26.735],[82,26.75],[85.3,26.769],[88,26.765],[90,26.762],[92,26.757],[95,26.75],[97.5,26.743],[100,26.755],[103,26.77],[105.7,26.775],[108,26.763],[111,26.765],[114,26.772],[117,26.785],[119.3,26.802],[122,26.81],[126.2,26.822],[130,26.824],[135,26.826],[139.8,26.828],[145,26.834],[150.7,26.841],[155,26.843],[158.8,26.845],[163,26.844],[170,26.84],[176.5,26.835],[183,26.83],[190,26.822],[197,26.812],[203.8,26.802],[205,26.8]];
const sigmaBlueEarly = [[0,26.462],[6,26.493],[12,26.507],[20,26.527],[30.8,26.546],[39,26.56],[44.4,26.598],[55,26.617],[64.7,26.651],[71.7,26.704],[78.5,26.73],[85.3,26.776],[92,26.764],[97.5,26.75],[105.7,26.782],[111,26.772],[119.3,26.809],[126.2,26.829],[139.8,26.835],[150.7,26.848],[158.8,26.852],[170,26.847],[183,26.837],[190,26.829],[197,26.819],[203.8,26.809],[205,26.805]];
const sigmaPurpleEarly = [[0,26.49],[0.25,26.74],[0.5,26.5],[0.75,26.75],[1,26.49],[1.25,26.745],[1.5,26.5],[1.75,26.74],[2,26.5],[2.25,26.72],[2.5,26.49],[2.75,26.7],[3,26.49],[3.25,26.65],[3.5,26.48],[3.75,26.58],[4.2,26.48],[6.3,26.486],[9,26.49],[12,26.5],[14,26.505],[14.5,26.433],[15,26.505],[17,26.513],[20,26.52],[23,26.525],[26,26.53],[28,26.535],[30.8,26.539],[32,26.545],[32.5,26.736],[33,26.55],[34.5,26.55],[35,26.73],[35.5,26.55],[36.5,26.55],[37,26.66],[37.5,26.55],[38,26.72],[38.5,26.555],[39.2,26.7],[39.8,26.56],[41,26.565],[41.5,26.7],[42,26.58],[44.4,26.591],[47,26.595],[50,26.6],[52,26.603],[54,26.61],[54.5,26.69],[55,26.612],[58,26.615],[61,26.63],[64.7,26.644],[66,26.655],[67,26.7],[67.5,26.66],[69,26.68],[69.5,26.72],[70,26.685],[71,26.73],[71.7,26.7],[74,26.705]];
const sigmaYellowSpikes = [[[113.6,26.766],[113.9,26.598],[114.2,26.772]],[[159.8,26.845],[160,26.782],[160.2,26.845]]];
const sigmaBlueLate = [[207,26.795],[209,26.78],[210.6,26.765],[212,26.75],[214.7,26.74],[217,26.745],[219,26.748],[220.5,26.74],[221.5,26.71],[223,26.7],[225,26.69],[227,26.695],[229,26.685],[231,26.684],[232.5,26.67],[234,26.66],[235.5,26.64],[236.5,26.62],[237.5,26.58],[238.6,26.54],[239.5,26.6],[240.5,26.66],[242,26.665],[244.6,26.657],[246.5,26.64],[248.8,26.63],[251,26.625],[253,26.62],[255,26.6],[256,26.58],[257,26.565],[258,26.6],[260,26.62],[262,26.63],[264,26.625],[266,26.6],[267.3,26.56],[268.2,26.51],[269,26.52],[270.5,26.505],[272.3,26.49],[274,26.485],[276,26.47],[277.5,26.475],[279.1,26.447],[280.5,26.45],[282,26.44],[283.5,26.43],[285,26.42],[286,26.39],[287,26.3],[287.8,26.37],[289,26.38],[290.5,26.36],[292.4,26.35],[294,26.345],[296,26.33],[297.5,26.32],[299.2,26.285],[300.5,26.295],[302,26.285],[304,26.28],[306,26.29],[308,26.28],[310,26.27],[312.9,26.26],[313.8,26.19],[314.5,26.18],[316,26.185],[318,26.175],[319.6,26.165],[321,26.17],[322.5,26.16],[323.5,26.14],[324.3,26.06],[325,26.15],[325.8,26.2],[326.5,26.17],[327.5,26.23],[328.5,26.22],[329.5,26.24],[331,26.22],[333.2,26.217],[334,26.23],[335,26.21],[336.5,26.22],[338,26.25],[339,26.27],[340,26.289],[341,26.285],[342,26.27],[343,26.25],[344,26.24],[345.5,26.25],[347,26.26],[348.5,26.27],[350,26.289],[351.5,26.28],[353,26.27],[354.5,26.265],[356,26.26],[357.5,26.27],[359,26.28],[360,26.289]];
const sigmaOrangeLate = [[207,26.79],[209,26.775],[210.6,26.762],[212.5,26.745],[214.7,26.739],[216.5,26.742],[218.5,26.745],[220,26.75],[221.5,26.715],[223,26.705],[225,26.695],[227,26.7],[229,26.69],[231,26.69],[232.5,26.675],[233.5,26.72],[234.5,26.66],[235.5,26.7],[236.5,26.63],[237.5,26.6],[238.6,26.56],[239.3,26.66],[240,26.69],[241,26.7],[242,26.675],[243,26.72],[244.6,26.665],[246.5,26.645],[248.8,26.635],[251,26.63],[253,26.625],[255,26.61],[256,26.59],[257,26.575],[258,26.605],[260,26.625],[262,26.635],[264,26.63],[266,26.61],[266.8,26.68],[267.5,26.57],[268.2,26.52],[268.8,26.66],[269.5,26.53],[270.2,26.65],[270.8,26.51],[271.5,26.67],[272.2,26.5],[272.9,26.64],[273.6,26.49],[274.3,26.62],[275,26.48],[275.7,26.66],[276.4,26.48],[277.1,26.6],[277.8,26.47],[278.5,26.64],[279.2,26.455],[279.9,26.58],[280.6,26.46],[281.3,26.62],[282,26.45],[282.7,26.57],[283.4,26.44],[284.1,26.6],[284.8,26.43],[285.5,26.55],[286.2,26.4],[287,26.33],[287.7,26.5],[288.4,26.38],[289.1,26.55],[289.8,26.37],[290.5,26.47],[291.5,26.365],[292.4,26.36],[293.3,26.45],[294,26.35],[295,26.34],[296,26.4],[297,26.33],[298,26.32],[299.2,26.295],[300.5,26.3],[301.5,26.35],[302.5,26.29],[304,26.29],[306,26.3],[307,26.33],[308,26.29],[310,26.28],[311.5,26.33],[312.9,26.27],[313.5,26.2],[314.3,26.43],[315,26.2],[315.7,26.35],[316.4,26.19],[317.1,26.42],[317.8,26.19],[318.5,26.3],[319.6,26.18],[320.5,26.26],[321.3,26.18],[322,26.22],[322.8,26.17],[323.5,26.15],[324.3,26.07],[325,26.3],[325.8,26.21],[326.5,26.34],[327.2,26.2],[328,26.25],[329,26.24],[330,26.25],[331,26.24],[333.2,26.23],[334,26.245],[335,26.225],[336.5,26.235],[338,26.26],[339,26.28],[340,26.295],[341,26.29],[342,26.28],[343,26.26],[344,26.25],[345.5,26.26],[347,26.27],[348.5,26.28],[350,26.295],[351.5,26.29],[353,26.28],[354.5,26.275],[356,26.27],[357.5,26.28],[359,26.29],[360,26.295]];
const sigmaYellowLate = [[207,26.795],[210,26.79],[212,26.782],[214.7,26.77],[217,26.765],[220,26.762],[223,26.765],[226,26.76],[229,26.755],[231,26.762],[233,26.765],[234.5,26.74],[235.5,26.755],[236.5,26.72],[237.3,26.745],[238,26.68],[238.8,26.74],[239.6,26.66],[240.4,26.73],[241.2,26.65],[242,26.72],[242.8,26.66],[243.6,26.71],[244.4,26.64],[245.2,26.72],[246,26.66],[246.8,26.71],[247.6,26.63],[248.4,26.69],[249.2,26.62],[250,26.7],[251,26.66],[252,26.71],[253,26.68],[254,26.72],[255,26.66],[256,26.7],[257,26.69],[258,26.66],[259,26.71],[260,26.67],[261,26.72],[262,26.66],[263,26.69],[264,26.64],[265,26.68],[266,26.65],[267,26.7],[268,26.66],[269,26.72],[270,26.68],[271,26.73],[272,26.67],[273,26.71],[274,26.665],[275,26.7],[276,26.67],[277,26.72],[278,26.68],[279,26.7],[280,26.67],[281,26.71],[282,26.66],[283,26.72],[284,26.67],[285,26.69],[286,26.67],[287,26.7],[288,26.665],[289,26.68],[290,26.66],[291,26.695],[292,26.67],[293,26.7],[294,26.66],[295,26.68],[296,26.67],[297,26.7],[298,26.665],[299,26.69],[300,26.66],[301,26.68],[302,26.63],[303,26.67],[304,26.6],[305,26.66],[306,26.585],[307,26.68],[308,26.7],[309,26.73],[310,26.72],[311,26.74],[312,26.73],[313,26.75],[314,26.73],[315,26.76],[316,26.72],[317,26.74],[318,26.7],[319,26.75],[320,26.66],[321,26.65],[322,26.61],[323,26.63],[324,26.58],[325,26.62],[326,26.56],[327,26.6],[328,26.52],[329,26.57],[330,26.48],[331,26.55],[332,26.44],[333,26.5],[334,26.35],[335,26.5],[336,26.33],[337,26.45],[338,26.32],[339,26.48],[340,26.3],[341,26.4],[342,26.29],[343,26.45],[344,26.3],[345,26.42],[346,26.31],[347,26.38],[348,26.3],[349,26.45],[350,26.32],[351,26.4],[352,26.35],[353,26.5],[354,26.4],[355,26.57],[356,26.35],[357,26.6],[358,26.42],[359,26.55],[360,26.31]];
const sigmaPurpleLate = [[207,26.797],[210,26.795],[214,26.79],[217,26.792],[220,26.788],[222,26.79],[224,26.785],[226,26.79],[228,26.795],[230,26.8],[232,26.795],[234,26.805],[236,26.8],[238,26.808],[240,26.805],[242,26.81],[244,26.808],[246,26.812],[248,26.805],[250,26.81],[252,26.805],[254,26.8],[256,26.805],[258,26.795],[260,26.8],[262,26.8],[264,26.79],[266,26.795],[268,26.75],[268.5,26.8],[270,26.795],[272,26.8],[274,26.805],[276,26.81],[278,26.812],[280,26.815],[282,26.81],[284,26.8],[286,26.795],[288,26.79],[290,26.78],[292,26.79],[294,26.775],[296,26.78],[298,26.77],[300,26.775],[301,26.76],[302,26.775],[304,26.785],[306,26.79],[308,26.8],[310,26.805],[312,26.81],[314,26.808],[316,26.812],[318,26.815],[319.5,26.805],[320.5,26.78],[321.5,26.74],[322.5,26.72],[323.5,26.7],[324.5,26.72],[325.5,26.7],[326.5,26.73],[327.5,26.72],[328.5,26.74],[329.5,26.73],[330.5,26.74],[331.5,26.75],[332.5,26.76],[333.5,26.74],[334.5,26.72],[335.5,26.7],[336.5,26.69],[337.5,26.68],[338.5,26.68],[339.5,26.67],[340.5,26.66],[341.5,26.64],[342.5,26.63],[343.5,26.61],[344.5,26.62],[345.5,26.6],[346.5,26.59],[347.5,26.6],[348.5,26.61],[349.5,26.6],[350.5,26.62],[351.5,26.63],[352.5,26.65],[353.5,26.67],[354.5,26.68],[355.5,26.7],[356.5,26.71],[357.5,26.73],[358.5,26.75],[359.2,26.72],[360,26.66]];

// annotation anchors (data units)
const mlMarkerDay = 214.6;
const arrowSigma = {from:[32.6,26.453], to:[5.9,26.576]};
const caretSigma = [[177.3,26.712],[181.1,26.648],[184.9,26.712]];
const mlNote = [" >150m ML","persists until","late October"];
const summerNote = ["summer stratification ends","abruptly, via a cooling event","without a salinity signature"];

// ---------------- LAYOUT / STYLE ----------------
const colors = {blue:"#0072BD", orange:"#D95319", yellow:"#EDB120", purple:"#7E2F8E"};
const layout = {left:91.3, right:972.3,
  panels:[{top:33.7,bottom:238.3,ylabX:38},{top:317.3,bottom:521,ylabX:47},{top:600.3,bottom:802.7,ylabX:42},{top:883.7,bottom:1086.7,ylabX:30.5},{top:1166.7,bottom:1369.7,ylabX:29}]};
const axisColor = "#262626", gridColor = "#e3e3e3", noteRed = "#e3223f";
const lineWidth = 1.45;

const toDate = d => new Date(T0 + d*864e5);
const svg = d3.select("#fig");
const x = d3.scaleUtc().domain(xDomainDays.map(toDate)).range([layout.left, layout.right]);
const tickDates = xTickDates.map(s => new Date(s+"T00:00:00Z"));

const seriesByPanel = [
  [[pressBlue,"blue"],[pressOrange,"orange"],[pressYellow,"yellow"],[pressPurple,"purple"]],
  [[tempStartFlat.concat(tempCommon,tempBlueMid,tempHigh),"blue"],[tempStartFlat.concat(tempCommon,tempOrangeMid,tempHigh),"orange"],[tempStartFlat.concat(tempCommon,tempYellowLate),"yellow"],[tempPurpleStart.concat(tempCommon,tempPurpleLate),"purple"]],
  [[condStartFlat.concat(condCommon,condBlueMid,condHigh),"blue"],[condStartFlat.concat(condCommon,condOrangeMid,condHigh),"orange"],[condStartFlat.concat(condCommon,condYellowLate),"yellow"],[condPurpleStart.concat(condCommon,condPurpleLate),"purple"]],
  [[salCommon.concat(salBlueLate),"blue"],[salCommon.concat(salOrangeLate),"orange"],[salCommon.concat(salYellowLate),"yellow"],[salCommon.concat(salPurpleLate),"purple"]],
  [[sigmaBlueEarly.concat(sigmaBlueLate),"blue"],[sigmaCommon.concat(sigmaOrangeLate),"orange"],[sigmaCommon.concat(sigmaYellowLate),"yellow"],[sigmaPurpleEarly.concat(sigmaCommon.filter(d=>d[0]>74),sigmaPurpleLate),"purple"]]
];

const yScales = [];
layout.panels.forEach((p, i) => {
  const y = d3.scaleLinear().domain(yDomains[i]).range([p.bottom, p.top]);
  yScales.push(y);
  const g = svg.append("g");
  const clipId = "clip"+i;
  svg.append("clipPath").attr("id", clipId).append("rect")
    .attr("x", layout.left).attr("y", p.top).attr("width", layout.right-layout.left).attr("height", p.bottom-p.top);
  // grid
  g.selectAll(".vg").data(tickDates).enter().append("line")
    .attr("x1", d=>x(d)).attr("x2", d=>x(d)).attr("y1", p.top).attr("y2", p.bottom)
    .attr("stroke", gridColor).attr("stroke-width", 1);
  g.selectAll(".hg").data(yTicks[i]).enter().append("line")
    .attr("x1", layout.left).attr("x2", layout.right).attr("y1", d=>y(d)).attr("y2", d=>y(d))
    .attr("stroke", gridColor).attr("stroke-width", 1);
  // lines
  const line = d3.line().x(d=>x(toDate(d[0]))).y(d=>y(d[1]));
  const lg = g.append("g").attr("clip-path", `url(#${clipId})`);
  seriesByPanel[i].forEach(([data, c]) => {
    lg.append("path").attr("d", line(data)).attr("fill","none")
      .attr("stroke", colors[c]).attr("stroke-width", lineWidth).attr("stroke-linejoin","round");
  });
  if (i === 4) {
    sigmaYellowSpikes.forEach(s => lg.insert("path", "path:last-child").attr("d", line(s)).attr("fill","none").attr("stroke", colors.yellow).attr("stroke-width",1.2));
  }
  // box
  g.append("rect").attr("x", layout.left).attr("y", p.top).attr("width", layout.right-layout.left)
    .attr("height", p.bottom-p.top).attr("fill","none").attr("stroke", axisColor).attr("stroke-width", 1);
  // ticks inside
  const tl = 9;
  tickDates.forEach(d => {
    g.append("line").attr("x1", x(d)).attr("x2", x(d)).attr("y1", p.bottom).attr("y2", p.bottom-tl).attr("stroke", axisColor);
    g.append("line").attr("x1", x(d)).attr("x2", x(d)).attr("y1", p.top).attr("y2", p.top+tl).attr("stroke", axisColor);
  });
  yTicks[i].forEach(v => {
    g.append("line").attr("x1", layout.left).attr("x2", layout.left+tl).attr("y1", y(v)).attr("y2", y(v)).attr("stroke", axisColor);
    g.append("line").attr("x1", layout.right).attr("x2", layout.right-tl).attr("y1", y(v)).attr("y2", y(v)).attr("stroke", axisColor);
  });
  // tick labels
  g.selectAll(".xl").data(tickDates).enter().append("text")
    .attr("x", d=>x(d)).attr("y", p.bottom+27.4).attr("text-anchor","middle")
    .attr("font-size", 20).attr("fill", axisColor).text((d,k)=>xTickLabels[k]);
  g.selectAll(".yl").data(yTicks[i]).enter().append("text")
    .attr("x", 81.7).attr("y", d=>y(d)).attr("dy","0.36em").attr("text-anchor","end")
    .attr("font-size", 20).attr("fill", axisColor).text(d=>String(d));
  // y label
  const lab = g.append("text").attr("transform", `translate(${p.ylabX},${(p.top+p.bottom)/2}) rotate(-90)`)
    .attr("text-anchor","middle").attr("font-size", 21.7).attr("fill", axisColor).text(yLabels[i]);
  if (i === 4) {
    lab.append("tspan").attr("baseline-shift","super").attr("font-size", 15).text("3");
    lab.append("tspan").text(")");
  }
});

// title
svg.append("text").attr("x", (layout.left+layout.right)/2).attr("y", 26).attr("text-anchor","middle")
  .attr("font-size", 22.5).attr("font-weight","bold").attr("fill","#000").text(title);

// conductivity red markers
{
  const y = yScales[2];
  const pts = condRedMarks.map(d=>[x(toDate(d[0])), y(d[1])]);
  svg.append("path").attr("d", d3.line()(pts)).attr("stroke","#ff0000").attr("stroke-width",1).attr("fill","none");
  pts.forEach(([px,py]) => {
    const r = 5.3;
    [[0,1],[1,0],[0.707,0.707],[0.707,-0.707]].forEach(([a,b]) => {
      svg.append("line").attr("x1", px-a*r).attr("x2", px+a*r).attr("y1", py-b*r).attr("y2", py+b*r)
        .attr("stroke","#ff0000").attr("stroke-width",1);
    });
  });
  const xm = x(toDate(mlMarkerDay));
  svg.append("line").attr("x1", xm).attr("x2", xm).attr("y1", y(3.64)).attr("y2", layout.panels[2].bottom)
    .attr("stroke", colors.orange).attr("stroke-width",1).attr("stroke-dasharray","1.5,2");
}
// dotted marker lines
{
  const xm = x(toDate(mlMarkerDay));
  const ys = yScales[3], yg = yScales[4];
  svg.append("line").attr("x1", xm).attr("x2", xm).attr("y1", ys(34.43)).attr("y2", layout.panels[3].bottom)
    .attr("stroke", colors.orange).attr("stroke-width",1).attr("stroke-dasharray","1.5,2");
  svg.append("line").attr("x1", xm).attr("x2", xm).attr("y1", layout.panels[4].top).attr("y2", yg(26.74))
    .attr("stroke", colors.orange).attr("stroke-width",1).attr("stroke-dasharray","1.5,2");
}
// text boxes
function noteBox(x0, y0, w, h, lines, tx, baselines) {
  svg.append("rect").attr("x", x0).attr("y", y0).attr("width", w).attr("height", h)
    .attr("fill","#fff").attr("stroke", noteRed).attr("stroke-width", 1.6);
  lines.forEach((t,k) => svg.append("text").attr("x", tx).attr("y", baselines[k])
    .style("font-family",'"DejaVu Sans",sans-serif').style("white-space","pre")
    .attr("font-size", 21).attr("fill","#000").text(t));
}
noteBox(594, 889.7, 171, 90.3, mlNote, 599.3, [912.3, 941.5, 970.5]);
noteBox(105.3, 1173.3, 315.4, 91, summerNote, 108.7, [1196.7, 1225.7, 1254.5]);

// arrow
{
  const y = yScales[4];
  const [x1,y1] = [x(toDate(arrowSigma.from[0])), y(arrowSigma.from[1])];
  const [x2,y2] = [x(toDate(arrowSigma.to[0])), y(arrowSigma.to[1])];
  svg.append("line").attr("x1",x1).attr("y1",y1).attr("x2",x2).attr("y2",y2).attr("stroke",noteRed).attr("stroke-width",1.6);
  const ang = Math.atan2(y1-y2, x1-x2), L = 19, half = 0.45;
  [ang+half, ang-half].forEach(a => svg.append("line").attr("x1",x2).attr("y1",y2)
    .attr("x2", x2+L*Math.cos(a)).attr("y2", y2+L*Math.sin(a)).attr("stroke",noteRed).attr("stroke-width",1.6));
  const cp = caretSigma.map(d=>[x(toDate(d[0])), y(d[1])]);
  svg.append("path").attr("d", d3.line()(cp)).attr("fill","none").attr("stroke",noteRed).attr("stroke-width",2);
}
</script></body></html>
